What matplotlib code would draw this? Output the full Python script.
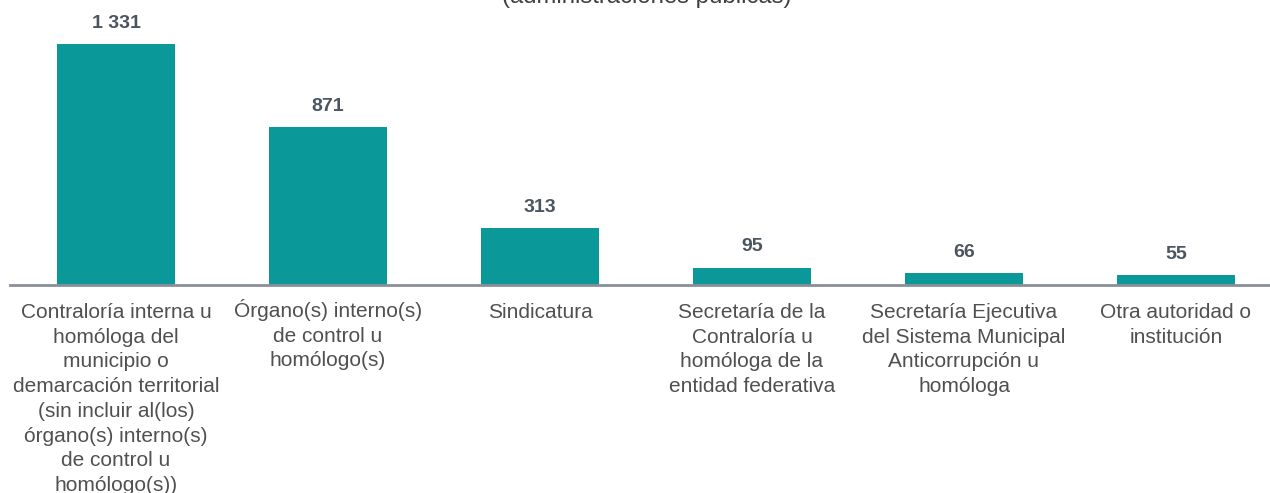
import matplotlib
matplotlib.use('Agg')
import matplotlib.pyplot as plt
import matplotlib.transforms as mtransforms

plt.rcParams['font.family'] = ['Liberation Sans', 'DejaVu Sans']

# Datos
categorias = [
    'Contraloría interna u\nhomóloga del\nmunicipio o\ndemarcación territorial\n(sin incluir al(los)\nórgano(s) interno(s)\nde control u\nhomólogo(s))',
    'Órgano(s) interno(s)\nde control u\nhomólogo(s)',
    'Sindicatura',
    'Secretaría de la\nContraloría u\nhomóloga de la\nentidad federativa',
    'Secretaría Ejecutiva\ndel Sistema Municipal\nAnticorrupción u\nhomóloga',
    'Otra autoridad o\ninstitución',
]
valores = [1331, 871, 313, 95, 66, 55]
etiquetas = ['1 331', '871', '313', '95', '66', '55']

W, H = 1270, 493
fig = plt.figure(figsize=(W / 100, H / 100), dpi=100)
# eje: de x=10 px a x=1282 px, base en y=285 px
ax = fig.add_axes([10 / W, (H - 285) / H, 1272 / W, 285 / H])

color_barra = '#0A9899'
x = range(len(valores))
ax.bar(x, valores, width=0.557, color=color_barra)

for xi, v, t in zip(x, valores, etiquetas):
    ax.annotate(t, (xi, v), xytext=(0, 15), textcoords='offset points',
                ha='center', va='center', fontsize=14, fontweight='bold',
                color='#4B5560')

ax.set_xlim(-0.5, 5.5)
ax.set_ylim(0, 1331 * 285 / 241)
ax.set_xticks([])
ax.set_yticks([])
for s in ['top', 'right', 'left']:
    ax.spines[s].set_visible(False)
ax.spines['bottom'].set_color('#8A9098')
ax.spines['bottom'].set_linewidth(2)

# etiquetas de categoria
trans = mtransforms.blended_transform_factory(ax.transData, ax.transAxes)
for xi, c in zip(x, categorias):
    dy = 18
    if c.startswith('Ó'):  # el acento sube la caja del texto
        dy = 14
    off = mtransforms.ScaledTranslation(0, -dy / 100, fig.dpi_scale_trans)
    ax.text(xi, 0, c, transform=trans + off, ha='center', va='top',
            multialignment='center', fontsize=15, color='#505050',
            linespacing=1.38, clip_on=False)

# titulo recortado en la parte superior
fig.text(647 / W, (H - 3) / H, '(administraciones públicas)', ha='center',
         va='baseline', fontsize=17.2, color='#404040')

fig.savefig('out.png', dpi=100)
